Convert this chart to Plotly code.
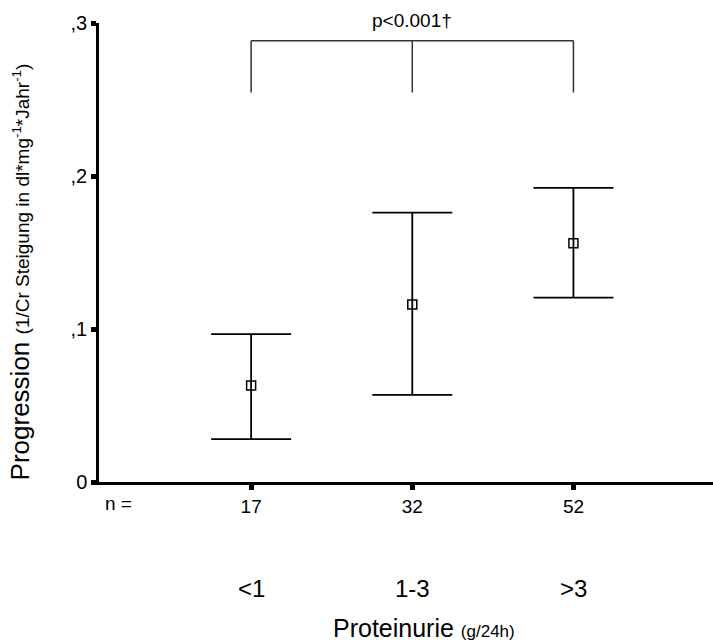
import plotly.graph_objects as go

# Proteinuria groups, group sizes, mean progression and 95% CI bounds
categories = ["<1", "1-3", ">3"]
n_values = ["17", "32", "52"]
means = [0.063, 0.116, 0.156]
ci_lower = [0.028, 0.057, 0.1205]
ci_upper = [0.0967, 0.176, 0.1923]

y_ticks = [0, 0.1, 0.2, 0.3]
y_ticklabels = ["0", ",1", ",2", ",3"]

p_label = "p<0.001†"
bracket_top = 0.2884
bracket_foot = 0.2546

x_pos = [1, 2, 3]
err_plus = [u - m for u, m in zip(ci_upper, means)]
err_minus = [m - l for m, l in zip(means, ci_lower)]

ARIAL = "Arial, Liberation Sans, sans-serif"
NARROW = "Liberation Sans Narrow, Arial Narrow, Liberation Sans, sans-serif"

fig = go.Figure()
fig.add_trace(go.Scatter(
    x=x_pos, y=means, mode="markers",
    marker=dict(symbol="square-open", size=9, color="black", line=dict(width=1.5)),
    error_y=dict(type="data", symmetric=False, array=err_plus, arrayminus=err_minus,
                 color="black", thickness=1.8, width=40),
    showlegend=False, cliponaxis=False,
))

# significance bracket across the three groups
line_style = dict(color="#333333", width=1.5)
fig.add_shape(type="line", x0=x_pos[0], x1=x_pos[-1], y0=bracket_top, y1=bracket_top, line=line_style)
for xp in x_pos:
    fig.add_shape(type="line", x0=xp, x1=xp, y0=bracket_top, y1=bracket_foot, line=line_style)

annotations = [
    dict(x=x_pos[1], y=1.0, xref="x", yref="paper", yshift=3, text=p_label, showarrow=False,
         yanchor="middle", font=dict(family=ARIAL, size=19, color="black")),
    dict(x=0.0065, y=0, xref="paper", yref="paper", yshift=-21, text="n =", showarrow=False,
         xanchor="left", yanchor="middle", font=dict(family=NARROW, size=19, color="black")),
    dict(x=0.53, y=0, xref="paper", yref="paper", yshift=-146,
         text="Proteinurie <span style='font-size:17px'>(g/24h)</span>", showarrow=False,
         yanchor="middle", font=dict(family=NARROW, size=25, color="black")),
    dict(x=-0.128, y=0.4575, xref="paper", yref="paper", textangle=-90,
         xanchor="center", yanchor="middle",
         text="Progression <span style='font-size:19px'>(1/Cr Steigung in dl*mg<sup>-1</sup>*Jahr<sup>-1</sup>)</span>",
         showarrow=False, font=dict(family=ARIAL, size=26, color="black")),
]
for xp, cat in zip(x_pos, categories):
    annotations.append(dict(x=xp, y=0, xref="x", yref="paper", yshift=-106, text=cat,
                            yanchor="middle", showarrow=False,
                            font=dict(family=NARROW, size=24, color="black")))

fig.update_layout(
    width=713, height=641,
    margin=dict(l=99, r=0, t=23, b=159),
    paper_bgcolor="white", plot_bgcolor="white",
    annotations=annotations,
    xaxis=dict(range=[0.056, 3.866], tickvals=x_pos, ticktext=n_values,
               showline=True, linecolor="black", linewidth=2.5,
               ticks="outside", ticklen=5, tickwidth=5, tickcolor="black",
               showgrid=False, zeroline=False,
               tickfont=dict(family=NARROW, size=19, color="black")),
    yaxis=dict(range=[0, 0.3], tickvals=y_ticks, ticktext=y_ticklabels,
               showline=True, linecolor="black", linewidth=2.5,
               ticks="outside", ticklen=5, tickwidth=5, tickcolor="black",
               showgrid=False, zeroline=False,
               tickfont=dict(family=ARIAL, size=20, color="black")),
)

fig.write_html("out.html")
